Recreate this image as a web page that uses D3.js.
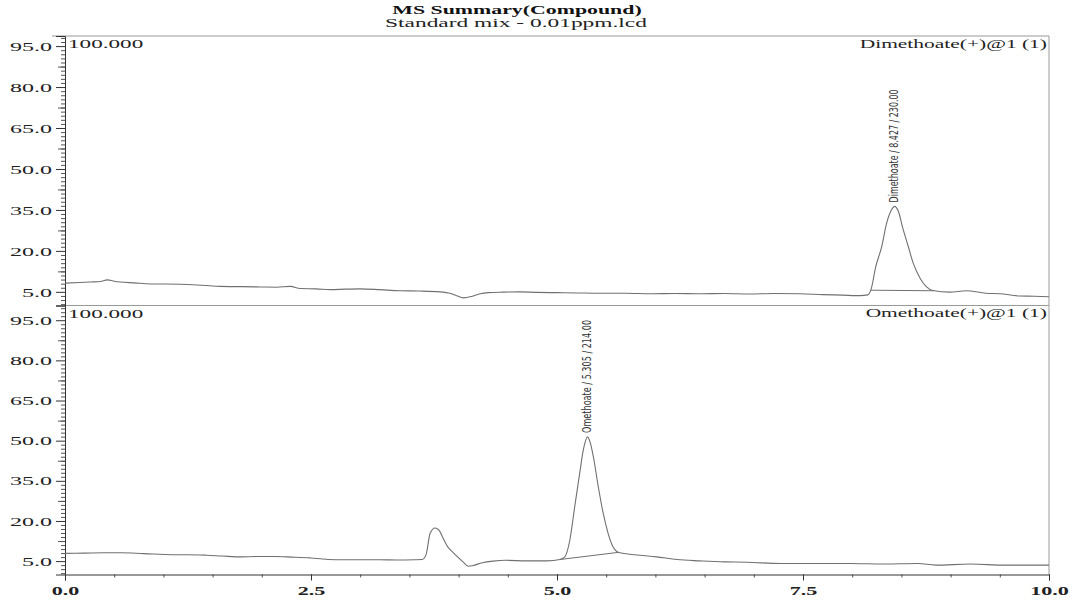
<!DOCTYPE html>
<html>
<head>
<meta charset="utf-8">
<script src="https://cdn.jsdelivr.net/npm/d3@7"></script>
<style>
  body { margin: 0; background: #fff; }
  svg text { font-family: "Liberation Serif", "Times New Roman", serif; fill: #222; }
  .peak-label { font-family: "Liberation Sans Narrow", "DejaVu Sans Condensed", "Liberation Sans", sans-serif; }
</style>
</head>
<body>
<script>
// ---- data ----
var xTicks = [0, 2.5, 5, 7.5, 10];
var yTicks = [5, 20, 35, 50, 65, 80, 95];
var traceNames = ["Dimethoate(+)@1 (1)", "Omethoate(+)@1 (1)"];

var dimeTime = [0.00, 0.15, 0.26, 0.36, 0.43, 0.50, 0.56, 0.70, 0.87, 1.17, 1.40, 1.58, 1.80, 1.98, 2.15, 2.29,
  2.39, 2.55, 2.70, 2.85, 3.00, 3.20, 3.40, 3.60, 3.81, 3.92, 3.98, 4.05, 4.14, 4.22, 4.30, 4.45, 4.62, 4.80,
  5.00, 5.20, 5.44, 5.70, 5.95, 6.20, 6.45, 6.70, 6.95, 7.20, 7.47, 7.70, 7.90, 8.08, 8.16, 8.19, 8.24, 8.30,
  8.35, 8.40, 8.43, 8.47, 8.51, 8.57, 8.62, 8.69, 8.75, 8.82, 8.99, 9.16, 9.36, 9.50, 9.70, 9.85, 10.00];
var dimeSignal = [8.2, 8.4, 8.6, 8.8, 9.4, 8.9, 8.6, 8.3, 7.9, 7.8, 7.4, 7.0, 6.9, 6.8, 6.7, 7.0,
  6.2, 6.1, 5.8, 6.0, 6.1, 5.8, 5.4, 5.3, 5.0, 4.4, 3.6, 2.8, 3.4, 4.3, 4.7, 4.9, 5.0, 4.8,
  4.7, 4.6, 4.5, 4.5, 4.3, 4.4, 4.3, 4.4, 4.2, 4.4, 4.3, 4.0, 3.8, 3.6, 3.9, 5.7, 14.3, 21.6,
  30.2, 35.1, 36.3, 34.4, 28.9, 21.6, 15.5, 10.0, 7.0, 5.5, 4.9, 5.4, 4.5, 4.3, 3.5, 3.4, 3.2];

var omeTime = [0.00, 0.20, 0.40, 0.57, 0.80, 1.09, 1.25, 1.44, 1.60, 1.79, 1.95, 2.14, 2.30, 2.49, 2.60, 2.67,
  2.85, 3.02, 3.20, 3.37, 3.55, 3.63, 3.67, 3.71, 3.76, 3.80, 3.85, 3.89, 3.94, 3.99, 4.05, 4.10, 4.14, 4.24,
  4.35, 4.48, 4.69, 4.90, 5.03, 5.08, 5.13, 5.18, 5.23, 5.27, 5.31, 5.34, 5.37, 5.42, 5.47, 5.52, 5.57, 5.61,
  5.64, 5.84, 6.01, 6.22, 6.45, 6.70, 6.93, 7.27, 7.62, 7.97, 8.32, 8.67, 8.85, 9.20, 9.55, 10.00];
var omeSignal = [7.9, 8.0, 8.1, 8.1, 7.8, 7.4, 7.4, 7.2, 6.9, 6.6, 6.7, 6.7, 6.5, 6.2, 5.9, 5.6,
  5.5, 5.5, 5.5, 5.4, 5.5, 5.6, 7.5, 15.3, 17.4, 16.6, 13.0, 10.3, 8.4, 6.6, 4.5, 3.1, 3.3, 4.4,
  5.0, 5.3, 5.1, 5.1, 5.6, 6.6, 12.8, 25.3, 37.7, 47.0, 51.4, 49.0, 43.9, 32.7, 22.8, 15.3, 10.3, 8.5,
  8.1, 7.2, 6.6, 5.6, 5.1, 4.7, 4.6, 4.1, 4.1, 4.1, 3.9, 4.1, 3.5, 3.9, 3.5, 3.5];

// peak annotations: name, retention time, m/z, apex height
var peakNames = ["Dimethoate", "Omethoate"];
var peakTimes = [8.427, 5.305];
var peakMz = ["230.00", "214.00"];
var peakHeights = [36.3, 51.4];
// integration baselines [time, signal] start/end
var dimeBase = [[8.19, 5.6], [8.83, 5.4]];
var omeBase = [[5.03, 5.6], [5.63, 8.3]];

(function(d3) {
  "use strict";

  /***** Layout *****/
  var W = 1080, H = 602;
  var plotLeft = 65, plotRight = 1049, plotTop = 36, plotMid = 305.5, plotBottom = 574.5;
  var stretch = 1.85;
  var traceColor = "#707070";

  var svg = d3.select("body").append("svg")
    .attr("width", W)
    .attr("height", H);

  // widen text horizontally, as in the scanned original
  function widen(sel, k) {
    sel.each(function() {
      var w = this.getComputedTextLength();
      d3.select(this).attr("textLength", w * k).attr("lengthAdjust", "spacingAndGlyphs");
    });
  }

  var x = d3.scaleLinear().domain([0, 10]).range([plotLeft, plotRight]);

  var panels = [
    { name: traceNames[0], max: 98.7, y0: plotMid, y1: plotTop, time: dimeTime, signal: dimeSignal, base: dimeBase, peak: 0 },
    { name: traceNames[1], max: 100.5, y0: plotBottom, y1: plotMid, time: omeTime, signal: omeSignal, base: omeBase, peak: 1 }
  ];

  /***** Title *****/
  svg.append("text")
    .attr("x", 517).attr("y", 14)
    .attr("text-anchor", "middle")
    .style("font-size", "13px").style("font-weight", "bold").style("fill", "#111")
    .text("MS Summary(Compound)")
    .call(widen, 1.68);
  svg.append("text")
    .attr("x", 516).attr("y", 27)
    .attr("text-anchor", "middle")
    .style("font-size", "13px")
    .text("Standard mix - 0.01ppm.lcd")
    .call(widen, 1.8);

  /***** Frame *****/
  svg.append("line").attr("x1", 52).attr("x2", plotRight).attr("y1", plotTop).attr("y2", plotTop)
    .attr("stroke", "#999");
  svg.append("line").attr("x1", plotRight).attr("x2", plotRight).attr("y1", plotTop).attr("y2", plotBottom)
    .attr("stroke", "#999");
  svg.append("line").attr("x1", plotLeft).attr("x2", plotRight).attr("y1", plotMid).attr("y2", plotMid)
    .attr("stroke", "#999");

  var yMinor = d3.range(0.5, 100, 1.5);

  panels.forEach(function(p) {
    var y = d3.scaleLinear().domain([0, p.max]).range([p.y0, p.y1]);
    var minor = yMinor.filter(function(v) { return v <= p.max && yTicks.indexOf(v) < 0; });
    var medium = minor.filter(function(v) { return yTicks.indexOf(v - 7.5) >= 0; });

    // minor ticks
    svg.append("g").attr("transform", "translate(" + plotLeft + ",0)")
      .call(d3.axisLeft(y).tickValues(minor).tickSize(4).tickFormat(""))
      .call(function(g) { g.select(".domain").remove(); })
      .selectAll("line").attr("stroke", "#555");
    svg.append("g").attr("transform", "translate(" + plotLeft + ",0)")
      .call(d3.axisLeft(y).tickValues(medium).tickSize(7).tickFormat(""))
      .call(function(g) { g.select(".domain").remove(); })
      .selectAll("line").attr("stroke", "#555");

    // major ticks + labels
    var ax = svg.append("g").attr("transform", "translate(" + plotLeft + ",0)")
      .call(d3.axisLeft(y).tickValues(yTicks).tickSizeOuter(0).tickSize(9).tickPadding(4)
        .tickFormat(d3.format(".1f")));
    ax.select(".domain").attr("stroke", "#333");
    ax.selectAll(".tick line").attr("stroke", "#333");
    ax.selectAll("text")
      .style("font-family", "Liberation Serif, serif")
      .style("font-size", "13px")
      .style("fill", "#222")
      .call(widen, stretch);

    // corner labels
    svg.append("text")
      .attr("x", plotLeft + 3).attr("y", p.y1 + 12)
      .style("font-size", "13px")
      .text("100.000")
      .call(widen, 1.78);
    svg.append("text")
      .attr("x", plotRight - 2).attr("y", p.y1 + 11.5)
      .attr("text-anchor", "end")
      .style("font-size", "13px")
      .text(p.name)
      .call(widen, 1.65);

    // trace
    var pts = p.time.map(function(t, i) { return [t, p.signal[i]]; });
    var line = d3.line()
      .x(function(d) { return x(d[0]); })
      .y(function(d) { return y(d[1]); })
      .curve(d3.curveMonotoneX);
    svg.append("path").datum(pts)
      .attr("d", line)
      .attr("fill", "none")
      .attr("stroke", traceColor)
      .attr("stroke-width", 1.1);

    // integration baseline
    svg.append("path").datum(p.base)
      .attr("d", d3.line().x(function(d) { return x(d[0]); }).y(function(d) { return y(d[1]); }))
      .attr("fill", "none")
      .attr("stroke", traceColor)
      .attr("stroke-width", 1);

    // peak label
    var k = p.peak;
    var px = x(peakTimes[k]), py = y(peakHeights[k]) - 4;
    svg.append("text")
      .attr("class", "peak-label")
      .attr("transform", "translate(" + px + "," + py + ") rotate(-90)")
      .attr("dy", "0.35em")
      .attr("textLength", 113)
      .attr("lengthAdjust", "spacingAndGlyphs")
      .style("font-size", "12px")
      .style("fill", "#333")
      .text(peakNames[k] + " / " + peakTimes[k].toFixed(3) + " / " + peakMz[k]);
  });

  /***** X axis *****/
  svg.append("g").attr("transform", "translate(0," + plotBottom + ")")
    .call(d3.axisBottom(x).tickValues(d3.range(0, 10.01, 0.5)).tickSize(3).tickFormat(""))
    .call(function(g) { g.select(".domain").remove(); })
    .selectAll("line").attr("stroke", "#555");
  var xa = svg.append("g").attr("transform", "translate(0," + plotBottom + ")")
    .call(d3.axisBottom(x).tickValues(xTicks).tickSizeOuter(0).tickSize(6).tickPadding(5)
      .tickFormat(d3.format(".1f")));
  xa.select(".domain").attr("stroke", "#333");
  xa.selectAll(".tick line").attr("stroke", "#333");
  xa.selectAll("text")
    .style("font-family", "Liberation Serif, serif")
    .style("font-size", "13px")
    .style("font-weight", "bold")
    .style("fill", "#222")
    .call(widen, 1.7);
})(d3);
</script>
</body>
</html>
